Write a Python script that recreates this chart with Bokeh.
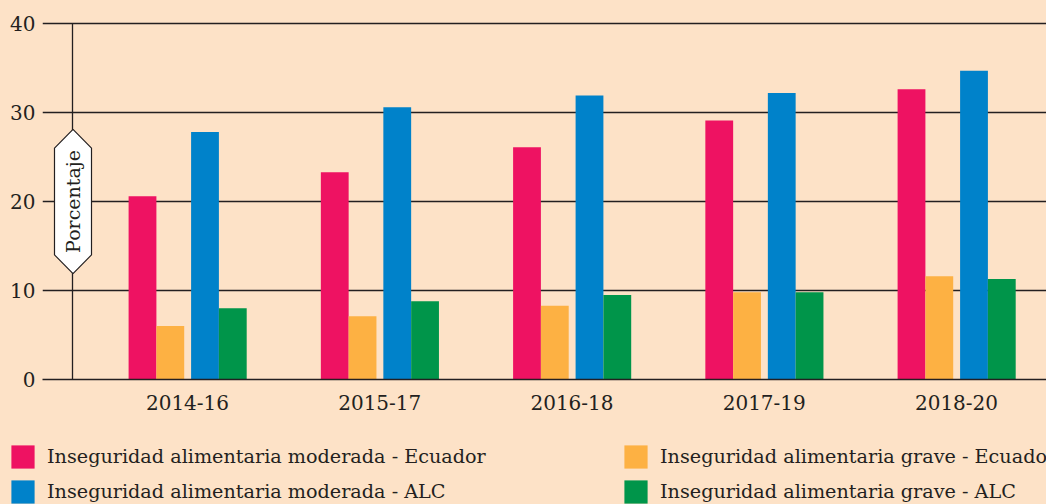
import numpy as np
from math import pi
from bokeh.plotting import figure
from bokeh.layouts import column
from bokeh.models import (ColumnDataSource, FixedTicker, Legend, LegendItem, Label,
                          Range1d)
from bokeh.transform import dodge
from bokeh.embed import file_html
from bokeh.resources import INLINE

periods = ["2014-16", "2015-17", "2016-18", "2017-19", "2018-20"]
mod_ecuador = [20.6, 23.3, 26.1, 29.1, 32.6]
grave_ecuador = [6.0, 7.1, 8.3, 9.8, 11.6]
mod_alc = [27.8, 30.6, 31.9, 32.2, 34.7]
grave_alc = [8.0, 8.8, 9.5, 9.8, 11.3]

series_labels = [
    "Inseguridad alimentaria moderada - Ecuador",
    "Inseguridad alimentaria moderada - ALC",
    "Inseguridad alimentaria grave - Ecuador",
    "Inseguridad alimentaria grave - ALC",
]
y_ticks = [0, 10, 20, 30, 40]
y_title = "Porcentaje"

BG = "#fde2c7"
INK = "#231f20"
FONT = "DejaVu Serif"
C_PINK = "#ee1262"
C_ORANGE = "#fdb143"
C_BLUE = "#0082ca"
C_GREEN = "#00954a"

W = 1046
H_MAIN = 420
H_LEG = 84
LEFT = 42
TOP = 12
BOTTOM_PX = 379

px = 192.25  # pixels per category unit
frame_w = W - LEFT
first_c = 187 - LEFT
xs = np.arange(len(periods), dtype=float)
src = ColumnDataSource(dict(x=xs, me=mod_ecuador, ge=grave_ecuador, ma=mod_alc, ga=grave_alc))

p = figure(width=W, height=H_MAIN, output_backend="svg", toolbar_location=None,
           x_range=Range1d(-first_c / px, (frame_w - first_c) / px),
           y_range=Range1d(0, (BOTTOM_PX - TOP) / 8.9),
           min_border_left=LEFT, min_border_right=0, min_border_top=TOP,
           min_border_bottom=H_MAIN - BOTTOM_PX)
p.frame_align = False
p.background_fill_color = BG
p.border_fill_color = BG
p.outline_line_color = None

p.xgrid.visible = False
p.ygrid.grid_line_color = INK
p.ygrid.grid_line_width = 1.6
p.yaxis.ticker = FixedTicker(ticks=y_ticks)
p.yaxis.axis_line_color = None
p.yaxis.major_tick_line_color = None
p.yaxis.minor_tick_line_color = None
p.yaxis.major_label_standoff = 1
p.yaxis.major_label_text_font = FONT
p.yaxis.major_label_text_font_size = "20px"
p.yaxis.major_label_text_color = INK

p.xaxis.ticker = FixedTicker(ticks=list(xs))
p.xaxis.major_label_overrides = {i: lab for i, lab in enumerate(periods)}
p.xaxis.axis_line_color = INK
p.xaxis.axis_line_width = 1.6
p.xaxis.major_tick_line_color = None
p.xaxis.minor_tick_line_color = None
p.xaxis.major_label_standoff = 9
p.xaxis.major_label_text_font = FONT
p.xaxis.major_label_text_font_size = "20px"
p.xaxis.major_label_text_color = INK

w = 27.8 / px
offsets = [-45 / px, -17.2 / px, 17.5 / px, 45.3 / px]
fields = ["me", "ge", "ma", "ga"]
colors = [C_PINK, C_ORANGE, C_BLUE, C_GREEN]
for off, f, col in zip(offsets, fields, colors):
    p.vbar(x=dodge("x", off), top=f, width=w, source=src, color=col, line_color=None)

# vertical axis line
ax_x = (72 - 187) / px
p.segment(x0=[ax_x], y0=[y_ticks[0]], x1=[ax_x], y1=[y_ticks[-1]], line_color=INK, line_width=1.3)

# hexagon badge for the y title
hx = ax_x + 0.5 / px
hw = 18.5 / px
yc = 20.0
p.patch(x=[hx, hx + hw, hx + hw, hx, hx - hw, hx - hw],
        y=[yc + 8.1, yc + 6.0, yc - 6.0, yc - 8.1, yc - 6.0, yc + 6.0],
        fill_color="white", line_color=INK, line_width=1.2)
p.add_layout(Label(x=hx, y=yc, text=y_title, angle=pi / 2, text_align="center",
                   text_baseline="middle", text_font=FONT, text_font_size="19px",
                   text_color=INK))

# legend panel (series glyphs drawn out of view; only the legend shows)
q = figure(width=W, height=H_LEG, output_backend="svg", toolbar_location=None,
           x_axis_location=None, y_axis_location=None,
           x_range=Range1d(-1, 5), y_range=Range1d(1000, 1001),
           min_border=0, min_border_left=0, min_border_right=0,
           min_border_top=0, min_border_bottom=0)
q.frame_align = False
q.grid.visible = False
q.outline_line_color = None
q.background_fill_color = BG
q.border_fill_color = BG
rr = {}
for off, f, col in zip(offsets, fields, colors):
    rr[f] = q.vbar(x=dodge("x", off), top=f, width=w, source=src, color=col, line_color=None)
order = ["me", "ma", "ge", "ga"]
items = [LegendItem(label=series_labels[i], renderers=[rr[f]]) for i, f in enumerate(order)]
legend = Legend(items=items, location=(8, -2), orientation="vertical", nrows=2,
                glyph_width=29, glyph_height=29, label_standoff=10, label_height=29,
                label_width=568, spacing=6, padding=0, margin=0,
                border_line_color=None, background_fill_alpha=0,
                label_text_font=FONT, label_text_font_size="19.2px", label_text_color=INK)
q.add_layout(legend)

layout = column(p, q, spacing=0)
layout.styles = {"background-color": BG}
open("out.html", "w").write(file_html(layout, INLINE))
